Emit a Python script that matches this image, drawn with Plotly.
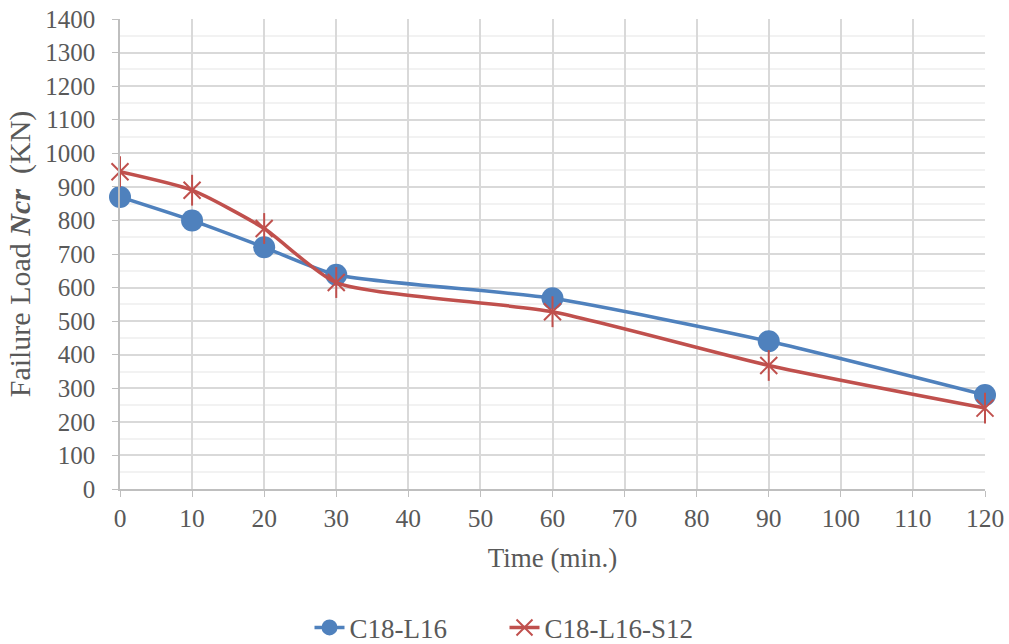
import plotly.graph_objects as go

time_min = [0, 10, 20, 30, 60, 90, 120]
c18_l16 = [870, 800, 720, 638, 568, 440, 280]
c18_l16_s12 = [945, 890, 776, 615, 528, 368, 241]

FONT = "Liberation Serif, Times New Roman, DejaVu Serif, serif"
TXT = "#595959"
BLUE = "#4F81BD"
RED = "#C0504D"

fig = go.Figure()
fig.add_trace(go.Scatter(
    x=time_min, y=c18_l16, name="C18-L16", mode="lines+markers",
    cliponaxis=False,
    line=dict(color=BLUE, width=3.5, shape="spline", smoothing=0.6),
    marker=dict(symbol="circle", size=22, color=BLUE),
))
fig.add_trace(go.Scatter(
    x=time_min, y=c18_l16_s12, name="C18-L16-S12", mode="lines+markers",
    legendgroup="s12", cliponaxis=False,
    line=dict(color=RED, width=3.5, shape="spline", smoothing=0.6),
    marker=dict(symbol="x-thin-open", size=17, color=RED,
                line=dict(color=RED, width=2)),
))
fig.add_trace(go.Scatter(
    x=time_min, y=c18_l16_s12, name="C18-L16-S12", mode="markers",
    legendgroup="s12", showlegend=False, hoverinfo="skip", cliponaxis=False,
    marker=dict(symbol="line-ns-open", size=22, color=RED,
                line=dict(color=RED, width=2)),
))

fig.update_layout(
    width=1009, height=644,
    margin=dict(l=120, r=24, t=19, b=155, autoexpand=False),
    paper_bgcolor="white", plot_bgcolor="white",
    font=dict(family=FONT, size=25, color=TXT),
    showlegend=True,
    legend=dict(orientation="h", x=0.5, xanchor="center", xref="container",
                y=0.025, yanchor="middle", yref="container",
                font=dict(size=27, color=TXT), entrywidth=150),
)
fig.update_xaxes(
    range=[0, 120], tickmode="linear", tick0=0, dtick=10,
    showgrid=True, gridcolor="#d9d9d9", gridwidth=1.5,
    showline=True, linecolor="#bfbfbf", linewidth=1.5,
    ticks="outside", ticklen=6, tickcolor="#bfbfbf",
    tickfont=dict(size=25.5),
    zeroline=False, automargin=False,
    title=dict(text="Time (min.)", font=dict(size=27, color=TXT), standoff=16),
)
fig.update_yaxes(
    range=[0, 1400], tickmode="linear", tick0=0, dtick=100,
    showgrid=True, gridcolor="#d9d9d9", gridwidth=1.5,
    minor=dict(dtick=50, showgrid=True, gridcolor="#f2f2f2", gridwidth=1.5),
    showline=True, linecolor="#bfbfbf", linewidth=1.5,
    ticks="outside", ticklen=6, tickcolor="#bfbfbf",
    tickfont=dict(size=25), ticklabelstandoff=12,
    zeroline=False, automargin=False,
    title=dict(text="Failure Load <b><i>Ncr</i></b>  (KN)", font=dict(size=30, color=TXT), standoff=6),
)

fig.write_html("out.html")
